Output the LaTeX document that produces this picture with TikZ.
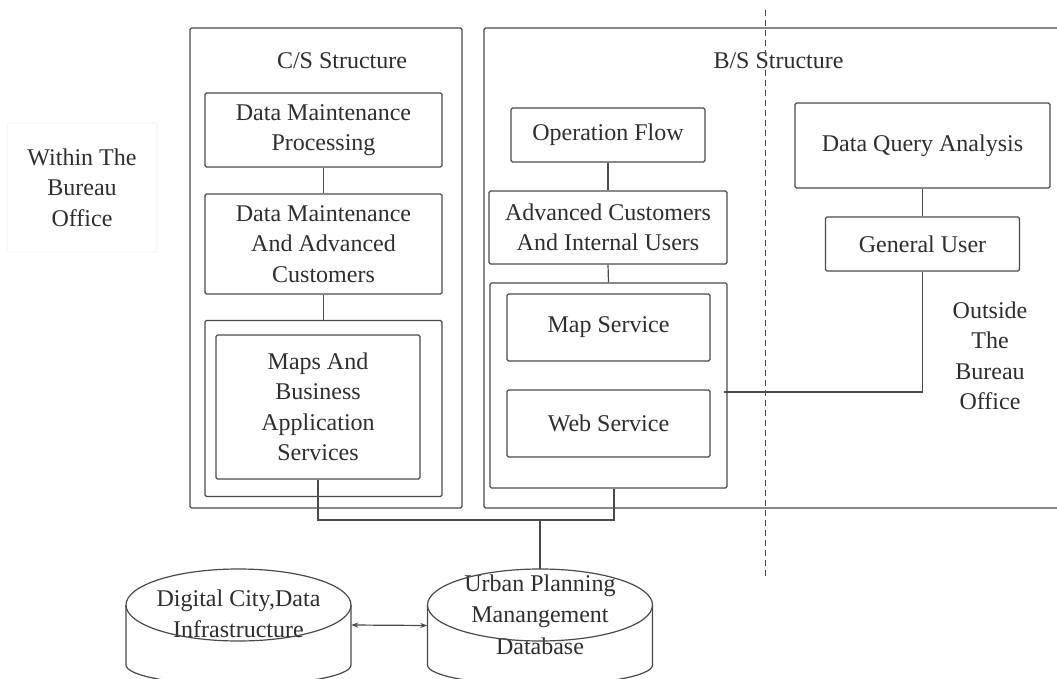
\documentclass[tikz,border=0pt]{standalone}
\usepackage{fontspec}
\setmainfont{Liberation Serif}
\usetikzlibrary{arrows.meta}
\definecolor{linec}{HTML}{4A4A4A}
\definecolor{textc}{HTML}{2E2E2E}
\begin{document}
\begin{tikzpicture}[x=1pt,y=-1pt,
  txt/.style={align=center, text=textc, inner sep=0pt, font=\fontsize{24}{30.5}\selectfont},
  box/.style={txt, draw=linec, line width=1.2pt, rounded corners=1.5pt},
  conn/.style={draw=linec, line width=1.2pt},
  sep/.style={draw=linec, line width=1pt, dash pattern=on 6pt off 4pt}]
\useasboundingbox (0,0) rectangle (1057,679);
\clip (0,0) rectangle (1057,679);
\fill[white] (0,0) rectangle (1057,679);

% left label
\node[txt, draw=gray!12, line width=0.6pt, rounded corners=2pt, minimum width=150pt, minimum height=129pt] (within) at (82,187.5) {Within The\\Bureau\\Office};

% C/S structure
\node[box, minimum width=272pt, minimum height=480pt] (cs) at (326,268) {};
\node[txt] (cslbl) at (342,61) {C/S Structure};
\node[box, minimum width=237pt, minimum height=74pt] (dmp) at (323.5,130) {Data Maintenance\\Processing};
\node[box, minimum width=237pt, minimum height=100pt] (dmac) at (323.5,244) {Data Maintenance\\And Advanced\\Customers};
\node[box, minimum width=237pt, minimum height=176pt] (mapsout) at (323.5,408.5) {};
\node[box, minimum width=204pt, minimum height=144pt] (mapsin) at (318,407) {Maps And\\Business\\Application\\Services};

% B/S structure
\node[box, minimum width=591pt, minimum height=480pt] (bs) at (779.5,268) {};
\node[txt] (bslbl) at (778.5,61) {B/S Structure};
\node[box, minimum width=194pt, minimum height=54pt] (opflow) at (608,135) {Operation Flow};
\node[box, minimum width=238pt, minimum height=73pt] (adv) at (608,227.5) {Advanced Customers\\And Internal Users};
\node[box, minimum width=237pt, minimum height=205pt] (grp) at (608.5,385.5) {};
\node[box, minimum width=203pt, minimum height=67pt] (maps) at (608.5,327.5) {Map Service};
\node[box, minimum width=203pt, minimum height=67pt] (web) at (608.5,423.5) {Web Service};
\node[box, minimum width=255pt, minimum height=85pt] (dqa) at (922.5,145.5) {Data Query Analysis};
\node[box, minimum width=194pt, minimum height=54pt] (gu) at (922.5,244) {General User};
\node[txt] (outside) at (990,356) {Outside\\The\\Bureau\\Office};

% databases (outline drawn separately)
\node[txt, minimum width=225pt, minimum height=72pt, font=\fontsize{24}{31.5}\selectfont] (dbL) at (238.5,614) {Digital City,Data\\Infrastructure};
\node[txt, minimum width=225pt, minimum height=72pt, font=\fontsize{24}{31.5}\selectfont] (dbR) at (540,614.5) {Urban Planning\\Manangement\\Database};
\foreach \cx in {238.5,540}{
  \draw[conn] (\cx-112.5,605) -- (\cx-112.5,665) arc[start angle=180, end angle=360, x radius=112.5pt, y radius=20pt] -- (\cx+112.5,605);
  \draw[conn] (\cx,605) ellipse [x radius=112.5pt, y radius=36pt];
}
\coordinate (dbRtop) at (540,569);

% separator
\coordinate (dtop) at (765,10);
\coordinate (dbot) at (765,580);
\draw[sep] (dtop) -- (dbot);

% connectors
\draw[conn] (dmp.south) -- (dmac.north);
\draw[conn] (dmac.south) -- (mapsout.north);
\draw[conn] (opflow.south) -- (adv.north);
\draw[conn] (adv.south) -- (grp.north);
\draw[conn] (dqa.south) -- (gu.north);
\draw[conn] (gu.south) |- ([xshift=-4pt,yshift=-6.5pt]grp.east);
\coordinate (bus) at (540,520);
\draw[conn] (mapsin.south) |- (bus) -| ([xshift=5.5pt]grp.south);
\draw[conn] (bus) -- (dbRtop);
\draw[conn, {Stealth[length=7pt,width=5pt]}-{Stealth[length=7pt,width=5pt]}] ([yshift=-11pt]dbL.east) -- ([yshift=-11pt]dbR.west);
\end{tikzpicture}
\end{document}
